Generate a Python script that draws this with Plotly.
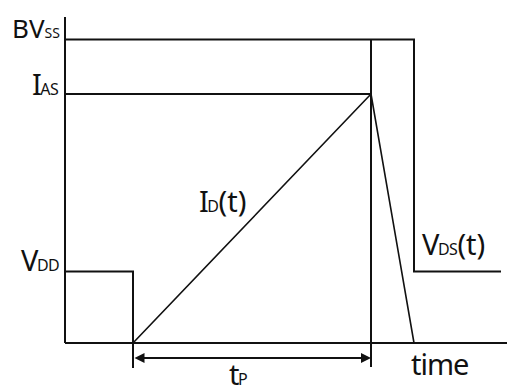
import plotly.graph_objects as go

# levels (data units: pixels above the time axis)
bvss = 303.5
ias = 249
vdd = 71.5

# time marks
t_off = 68      # gate pulse ends, I_D starts ramping
t_p = 306       # end of t_P, I_D at peak
t_fall = 349    # I_D reaches zero, V_DS drops back
t_end = 436     # end of V_DS trace
axis_end = 442
axis_top = 326

# waveforms
vdd_x = [0, t_off, t_off]
vdd_y = [vdd, vdd, 0]
bv_x = [0, t_fall, t_fall, t_end]
bv_y = [bvss, bvss, vdd, vdd]
ias_x = [0, t_p]
ias_y = [ias, ias]
id_x = [t_off, t_p, t_fall]
id_y = [0, ias, 0]

FONT = "Noto Sans, sans-serif"
INK = "#111111"

fig = go.Figure()


def line(x, y, w=2):
    fig.add_trace(go.Scatter(x=x, y=y, mode="lines",
                             line=dict(color=INK, width=w),
                             hoverinfo="skip", showlegend=False))


# axes
line([0, 0], [axis_top, 0])
line([0, axis_end], [0, 0])

line(vdd_x, vdd_y)
line(bv_x, bv_y)
line(ias_x, ias_y)
line(id_x, id_y, 1.6)
line([t_p, t_p], [bvss, -24])
line([t_off, t_off], [0, -25])


def sub(main, s, sp=True):
    if not sp:
        return f"{main}<span style='font-size:14px'>{s}</span>"
    return (f"<span style='letter-spacing:-1.5px'>{main}</span>"
            f"<span style='font-size:16px;letter-spacing:-0.5px'>{s}</span>")


labels = [
    (sub("BV", "SS", False), -4, 315, "right", 26),
    (sub("I", "AS"), -5, 260, "right", 29),
    (sub("V", "DD"), -5, 84, "right", 29),
    (sub("I", "D") + "(t)", 133, 143, "left", 29),
    (sub("V", "DS") + "(t)", 356, 100, "left", 29),
    ("<span style='letter-spacing:-1px'>time</span>", 345, -20, "left", 29),
    (sub("t", "P"), 163, -30, "left", 29),
]
for txt, x, y, anchor, size in labels:
    fig.add_annotation(x=x, y=y, text=txt, showarrow=False,
                       xanchor=anchor, yanchor="middle", borderpad=0,
                       font=dict(family=FONT, size=size, color=INK))

# t_P double arrow
fig.add_annotation(x=t_p, y=-15, ax=t_off, ay=-15, xref="x", yref="y",
                   axref="x", ayref="y", text="", showarrow=True,
                   arrowhead=2, startarrowhead=2, arrowside="end+start",
                   arrowsize=1, arrowwidth=2, arrowcolor=INK)

# page body adds an 8px margin, so the ranges are shifted to compensate
fig.update_layout(
    width=520, height=392,
    margin=dict(l=0, r=0, t=0, b=0),
    paper_bgcolor="white", plot_bgcolor="white",
    xaxis=dict(range=[-57, 463], visible=False),
    yaxis=dict(range=[-57, 335], visible=False),
)

fig.write_html("out.html")
